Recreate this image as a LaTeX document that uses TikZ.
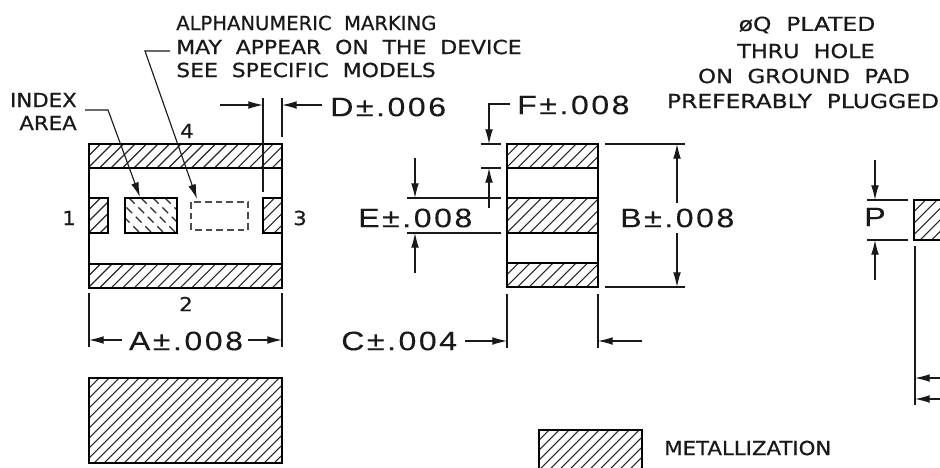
\documentclass[tikz,border=0pt]{standalone}
\usepackage{fontspec}
\usetikzlibrary{arrows.meta}
\setmainfont{DejaVu Sans}
\newfontfamily\smallfont[FakeBold=0.6]{DejaVu Sans}
\newfontfamily\dimfont[LetterSpace=8,FakeBold=0.2]{Liberation Sans}
\newcommand\hatchbox[5]{%
  \begin{scope}
    \clip (#1,#2) rectangle (#3,#4);
    \pgfmathtruncatemacro{\hn}{(#3-#1+#4-#2)/#5+1}
    \foreach \k in {0,...,\hn}{
      \pgfmathsetmacro{\hx}{#1-(#4-#2)+\k*#5}
      \pgfmathsetmacro{\hy}{\hx+#4-#2}
      \draw[hatchline] (\hx,#4) -- (\hy,#2);
    }
  \end{scope}}
\tikzset{
  part/.style={draw=black,line width=1.2pt},
  hatchline/.style={draw=black!85,line width=0.8pt},
  dimline/.style={draw=black!90,line width=0.85pt},
  dimarrow/.style={dimline,-{Latex[length=11pt,width=5.8pt]}},
  small/.style={font=\smallfont\fontsize{14.5}{16}\selectfont,inner sep=0pt,text=black!90,xscale=1.1,transform shape},
  dim/.style={font=\dimfont\fontsize{20}{22}\selectfont,inner sep=0pt,text=black!90,xscale=1.2,transform shape}
}
\begin{document}
\begin{tikzpicture}[x=0.75pt,y=-0.75pt]
\useasboundingbox (0,0) rectangle (940,468);
% left view hatching
\hatchbox{89}{144}{282}{168}{11.5}
\hatchbox{89}{264}{282}{288}{11.5}
\hatchbox{89}{198}{108}{233}{11.5}
\hatchbox{263}{198}{282}{233}{11.5}
\begin{scope}
  \clip (125,198) rectangle (177,233);
  \foreach \c in {0,1,...,7}{
    \draw[hatchline,line width=1pt,dash pattern=on 6pt off 4pt] (105+\c*12,198) -- (140+\c*12,233);
  }
\end{scope}
\draw[part] (89,144) rectangle (282,288);
\draw[part] (89,168) -- (282,168) (89,264) -- (282,264);
\draw[part] (89,198) rectangle (108,233);
\draw[part] (263,198) rectangle (282,233);
\draw[part] (125,198) rectangle (177,233);
\draw[part,draw=black!70,dash pattern=on 5pt off 3pt] (191,202) rectangle (248,230);
% bottom rectangle
\hatchbox{89}{378}{282}{463}{10}
\draw[part] (89,378) rectangle (282,463);
% middle view
\hatchbox{507}{144}{598}{168}{11.5}
\hatchbox{507}{198}{598}{233}{11.5}
\hatchbox{507}{263}{598}{287}{11.5}
\draw[part] (507,144) rectangle (598,287);
\draw[part] (507,168) -- (598,168) (507,198) -- (598,198) (507,233) -- (598,233) (507,263) -- (598,263);
% right pad
\hatchbox{914}{200}{941}{240}{11.5}
\draw[part] (941,200) -- (914,200) -- (914,240) -- (941,240);
% legend
\hatchbox{539}{430}{642}{469}{10}
\draw[part] (539,469) -- (539,430) -- (642,430) -- (642,469);

% texts
\node[small,xscale=0.92,anchor=west] (alpha1) at (176,23) {ALPHANUMERIC~~MARKING};
\node[small,xscale=1.03,anchor=west] (alpha2) at (176,47) {MAY~~APPEAR~~ON~~THE~~DEVICE};
\node[small,xscale=1.03,anchor=west] (alpha3) at (176,70) {SEE~~SPECIFIC~~MODELS};
\node[small,anchor=east] (idx1) at (77,100) {INDEX};
\node[small,anchor=east] (idx2) at (77,123) {AREA};
\node[small,xscale=1.1] (q1) at (807,25) {øQ~~PLATED};
\node[small,xscale=1.05] (q2) at (806,51) {THRU~~HOLE};
\node[small,xscale=1.07] (q3) at (804,76) {ON~~GROUND~~PAD};
\node[small,xscale=1.1] (q4) at (803,101) {PREFERABLY~~PLUGGED};
\node[small] (n4) at (187,131) {4};
\node[small] (n1) at (69,218) {1};
\node[small] (n3) at (300,218) {3};
\node[small] (n2) at (186,304) {2};
\node[small,anchor=west] (met) at (664,448) {METALLIZATION};
\node[dim,anchor=west] (dD) at (330,107) {D±.006};
\node[dim,anchor=west] (dF) at (517,105) {F±.008};
\node[dim,anchor=west] (dE) at (358,218) {E±.008};
\node[dim,anchor=west] (dB) at (620,218) {B±.008};
\node[dim,anchor=west] (dC) at (341,341) {C±.004};
\node[dim] (dA) at (186,341) {A±.008};
\node[dim] (dP) at (875,217) {P};

% leaders
\coordinate (i0) at (85,110); \coordinate (i1) at (108,110); \coordinate (i2) at (140,197);
\draw[dimarrow] (i0) -- (i1) -- (i2);
\coordinate (m0) at (170,51); \coordinate (m1) at (145,51); \coordinate (m2) at (197,199);
\draw[dimarrow] (m0) -- (m1) -- (m2);
% D
\coordinate (d1) at (263,105); \coordinate (d2) at (282,105);
\draw[dimline] (263,98) -- (263,192) (282,98) -- (282,137);
\draw[dimarrow] (220,105) -- (d1);
\draw[dimarrow] (322,105) -- (d2);
% F
\coordinate (f0) at (510,104); \coordinate (f1) at (489,104); \coordinate (f2) at (489,144);
\coordinate (f3) at (489,208); \coordinate (f4) at (489,168);
\draw[dimarrow] (f0) -- (f1) -- (f2);
\draw[dimarrow] (f3) -- (f4);
\draw[dimline] (481,144) -- (501,144) (481,168) -- (501,168) (407,198) -- (501,198) (407,233) -- (501,233);
% E
\coordinate (e1) at (415,198); \coordinate (e2) at (415,233);
\draw[dimarrow] (415,158) -- (e1);
\draw[dimarrow] (415,273) -- (e2);
% B
\coordinate (b1) at (677,144); \coordinate (b2) at (677,287);
\draw[dimline] (605,144) -- (685,144) (605,287) -- (685,287);
\draw[dimarrow] (677,203) -- (b1);
\draw[dimarrow] (677,233) -- (b2);
% C
\coordinate (c1) at (507,341); \coordinate (c2) at (598,341);
\draw[dimline] (507,294) -- (507,348) (598,294) -- (598,348);
\draw[dimarrow] (465,341) -- (c1);
\draw[dimarrow] (642,341) -- (c2);
% A
\coordinate (a1) at (89,340); \coordinate (a2) at (282,340);
\draw[dimline] (89,293) -- (89,347) (282,293) -- (282,347);
\draw[dimarrow] (122,340) -- (a1);
\draw[dimarrow] (248,340) -- (a2);
% P
\coordinate (p1) at (875,200); \coordinate (p2) at (875,240);
\draw[dimline] (867,200) -- (908,200) (867,240) -- (908,240);
\draw[dimarrow] (875,160) -- (p1);
\draw[dimarrow] (875,280) -- (p2);
% right stub
\coordinate (r1) at (915,378); \coordinate (r2) at (915,399);
\draw[dimline] (915,246) -- (915,405);
\draw[dimarrow] (941,378) -- (r1);
\draw[dimarrow] (941,399) -- (r2);
\end{tikzpicture}
\end{document}
